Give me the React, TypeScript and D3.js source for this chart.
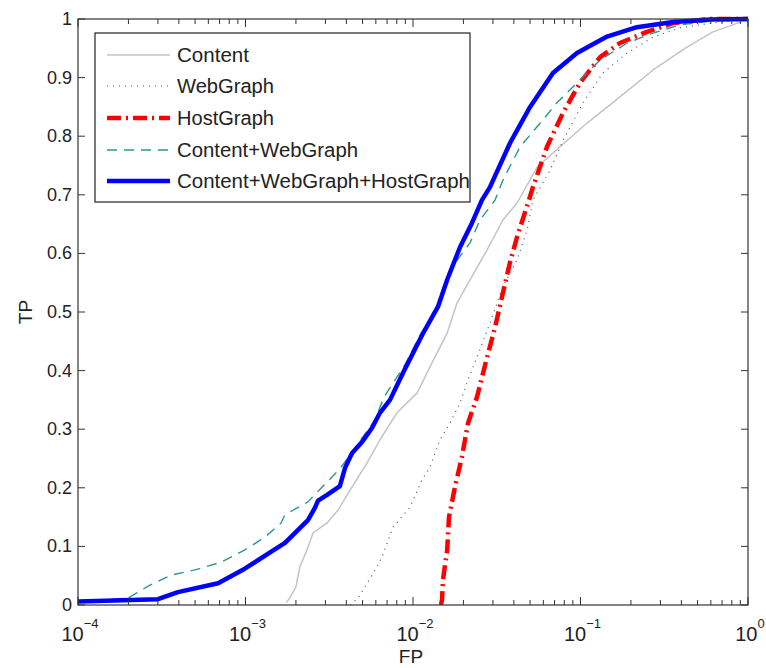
import React from 'react';
import * as d3 from 'd3';

// ROC-style curves (FP on log scale, TP linear)
const content: [number, number][] = [
  [1.75e-3, 0.004], [1.84e-3, 0.012], [2.0e-3, 0.031], [2.11e-3, 0.065], [2.33e-3, 0.094],
  [2.53e-3, 0.123], [3.07e-3, 0.14], [3.57e-3, 0.162], [4.21e-3, 0.196], [5.31e-3, 0.242],
  [6.35e-3, 0.282], [8.02e-3, 0.328], [1.06e-2, 0.362], [1.26e-2, 0.406], [1.6e-2, 0.464],
  [1.83e-2, 0.515], [2.19e-2, 0.555], [2.77e-2, 0.606], [3.44e-2, 0.657], [4.18e-2, 0.686],
  [5.5e-2, 0.747], [7.55e-2, 0.782], [0.109, 0.822], [0.172, 0.867], [0.271, 0.913],
  [0.432, 0.952], [0.618, 0.978], [0.813, 0.99], [1, 1],
];

const webGraph: [number, number][] = [
  [4.21e-3, 0.0], [4.7e-3, 0.012], [6.1e-3, 0.065], [6.53e-3, 0.082], [7.6e-3, 0.133],
  [9.6e-3, 0.167], [1.13e-2, 0.213], [1.26e-2, 0.235], [1.45e-2, 0.282], [1.66e-2, 0.31],
  [1.91e-2, 0.345], [2.13e-2, 0.384], [2.41e-2, 0.423], [2.88e-2, 0.481], [3.44e-2, 0.543],
  [4.18e-2, 0.589], [4.8e-2, 0.64], [5.2e-2, 0.691], [6.58e-2, 0.742], [7.87e-2, 0.793],
  [0.1035, 0.857], [0.136, 0.908], [0.19, 0.942], [0.271, 0.969], [0.393, 0.985],
  [0.681, 0.995], [1, 1],
];

const hostGraph: [number, number][] = [
  [1.47e-2, 0.0], [1.49e-2, 0.009], [1.51e-2, 0.043], [1.6e-2, 0.094], [1.64e-2, 0.15],
  [1.78e-2, 0.201], [1.96e-2, 0.253], [2.13e-2, 0.31], [2.41e-2, 0.355], [2.77e-2, 0.423],
  [3.09e-2, 0.474], [3.4e-2, 0.526], [3.79e-2, 0.584], [4.18e-2, 0.628], [4.86e-2, 0.686],
  [5.2e-2, 0.713], [6.31e-2, 0.782], [7.87e-2, 0.84], [9.93e-2, 0.891], [0.131, 0.935],
  [0.172, 0.959], [0.249, 0.978], [0.357, 0.993], [0.593, 1.0], [1, 1],
];

const contentWeb: [number, number][] = [
  [1e-4, 0.004], [1.99e-4, 0.012], [2.69e-4, 0.034], [3.59e-4, 0.051], [5.0e-4, 0.06],
  [7.14e-4, 0.073], [9.9e-4, 0.094], [1.31e-3, 0.116], [1.63e-3, 0.14], [1.72e-3, 0.154],
  [2.36e-3, 0.176], [2.86e-3, 0.201], [3.66e-3, 0.232], [5.93e-3, 0.316], [6.71e-3, 0.355],
  [8.96e-3, 0.41], [1.1e-2, 0.46], [1.35e-2, 0.5], [1.71e-2, 0.577], [2.19e-2, 0.618],
  [2.51e-2, 0.657], [3.09e-2, 0.691], [3.44e-2, 0.725], [4.36e-2, 0.782], [5.73e-2, 0.822],
  [7.24e-2, 0.857], [9.53e-2, 0.891], [0.131, 0.93], [0.19, 0.959], [0.271, 0.976],
  [0.393, 0.99], [0.681, 0.998], [1, 1],
];

const allCombined: [number, number][] = [
  [1e-4, 0.006], [3.0e-4, 0.01], [3.95e-4, 0.022], [6.86e-4, 0.037], [9.9e-4, 0.062],
  [1.72e-3, 0.106], [2.36e-3, 0.145], [2.6e-3, 0.166], [2.71e-3, 0.178], [3.07e-3, 0.188],
  [3.66e-3, 0.203], [3.93e-3, 0.234], [4.32e-3, 0.259], [4.96e-3, 0.278], [5.69e-3, 0.302],
  [6.35e-3, 0.328], [7.29e-3, 0.35], [8.71e-3, 0.396], [1.15e-2, 0.464], [1.41e-2, 0.509],
  [1.6e-2, 0.555], [1.91e-2, 0.611], [2.25e-2, 0.652], [2.58e-2, 0.691], [2.88e-2, 0.713],
  [3.79e-2, 0.788], [5.0e-2, 0.85], [6.85e-2, 0.908], [9.53e-2, 0.942], [0.144, 0.97],
  [0.217, 0.986], [0.357, 0.995], [0.593, 0.999], [1, 1],
];

const seriesNames = ['Content', 'WebGraph', 'HostGraph', 'Content+WebGraph', 'Content+WebGraph+HostGraph'];
const legendWidths = [72, 97, 97, 181, 293];

const yTicks = [0, 0.1, 0.2, 0.3, 0.4, 0.5, 0.6, 0.7, 0.8, 0.9, 1];
const xDecades = [-4, -3, -2, -1, 0];

const W = 766;
const H = 668;
const left = 78, right = 748, top = 19, bottom = 605;
const font = '"Liberation Sans", Arial, Helvetica, sans-serif';

const styles = [
  { color: '#c4c4c4', width: 1.5, dash: undefined },
  { color: '#555555', width: 1.2, dash: '1,5' },
  { color: '#ff0000', width: 4.5, dash: '14,5,2,5' },
  { color: '#2e9494', width: 1.4, dash: '10,7' },
  { color: '#0000ff', width: 4.5, dash: undefined },
];

const App = () => {
  const x = d3.scaleLog().domain([1e-4, 1]).range([left, right]);
  const y = d3.scaleLinear().domain([0, 1]).range([bottom, top]);
  const line = d3.line<[number, number]>().x(d => x(d[0])).y(d => y(d[1]));
  const data = [content, webGraph, hostGraph, contentWeb, allCombined];

  // minor ticks 2..9 in each decade
  const minor: number[] = [];
  for (let e = -4; e < 0; e++) {
    for (let k = 2; k <= 9; k++) minor.push(k * Math.pow(10, e));
  }

  const legendX = 95, legendY = 33, legendW = 375, legendH = 169;
  const rowY = [55, 86, 118, 150, 181];

  return (
    <svg width={W} height={H} style={{ position: 'absolute', left: 0, top: 0, background: '#fff' }}>
      <rect x={0} y={0} width={W} height={H} fill="#fff" />
      <defs>
        <clipPath id="plot">
          <rect x={left} y={top - 3} width={right - left + 2} height={bottom - top + 3} />
        </clipPath>
      </defs>

      {/* curves */}
      <g clipPath="url(#plot)">
        {data.map((d, i) => (
          <path key={i} d={line(d) || ''} fill="none" stroke={styles[i].color}
            strokeWidth={styles[i].width} strokeDasharray={styles[i].dash}
            strokeLinejoin="round" />
        ))}
      </g>

      {/* axes box and ticks */}
      <rect x={left} y={top} width={right - left} height={bottom - top} fill="none" stroke="#333" strokeWidth={1.2} />
      {yTicks.map(t => (
        <g key={t}>
          <line x1={left} x2={left + 7} y1={y(t)} y2={y(t)} stroke="#333" />
          <line x1={right - 7} x2={right} y1={y(t)} y2={y(t)} stroke="#333" />
          <text x={left - 6} y={y(t) + 6} textAnchor="end" fontFamily={font} fontSize={18} fill="#222">{t}</text>
        </g>
      ))}
      {xDecades.map(e => (
        <g key={e}>
          <line x1={x(Math.pow(10, e))} x2={x(Math.pow(10, e))} y1={bottom} y2={bottom - 8} stroke="#333" />
          <line x1={x(Math.pow(10, e))} x2={x(Math.pow(10, e))} y1={top} y2={top + 8} stroke="#333" />
          <text x={x(Math.pow(10, e)) + 2} y={641} textAnchor="middle" fontFamily={font} fontSize={20} fill="#222">
            10<tspan dy={-13} fontSize={13}>{e === 0 ? '0' : '\u2212' + (-e)}</tspan>
          </text>
        </g>
      ))}
      {minor.map(v => (
        <g key={v}>
          <line x1={x(v)} x2={x(v)} y1={bottom} y2={bottom - 5} stroke="#333" />
          <line x1={x(v)} x2={x(v)} y1={top} y2={top + 5} stroke="#333" />
        </g>
      ))}

      <text x={(left + right) / 2 - 2} y={663} textAnchor="middle" fontFamily={font} fontSize={19} fill="#222">FP</text>
      <text transform={`translate(32,${(top + bottom) / 2}) rotate(-90)`} textAnchor="middle" fontFamily={font} fontSize={19} fill="#222">TP</text>

      {/* legend */}
      <rect x={legendX} y={legendY} width={legendW} height={legendH} fill="#fff" stroke="#222" strokeWidth={1.2} />
      {seriesNames.map((name, i) => (
        <g key={name}>
          <line x1={107} x2={170} y1={rowY[i]} y2={rowY[i]} stroke={styles[i].color}
            strokeWidth={styles[i].width} strokeDasharray={styles[i].dash} />
          <text x={177} y={rowY[i] + 7} fontFamily={font} fontSize={20} fill="#222"
            textLength={legendWidths[i]} lengthAdjust="spacingAndGlyphs">{name}</text>
        </g>
      ))}
    </svg>
  );
};

export default App;
